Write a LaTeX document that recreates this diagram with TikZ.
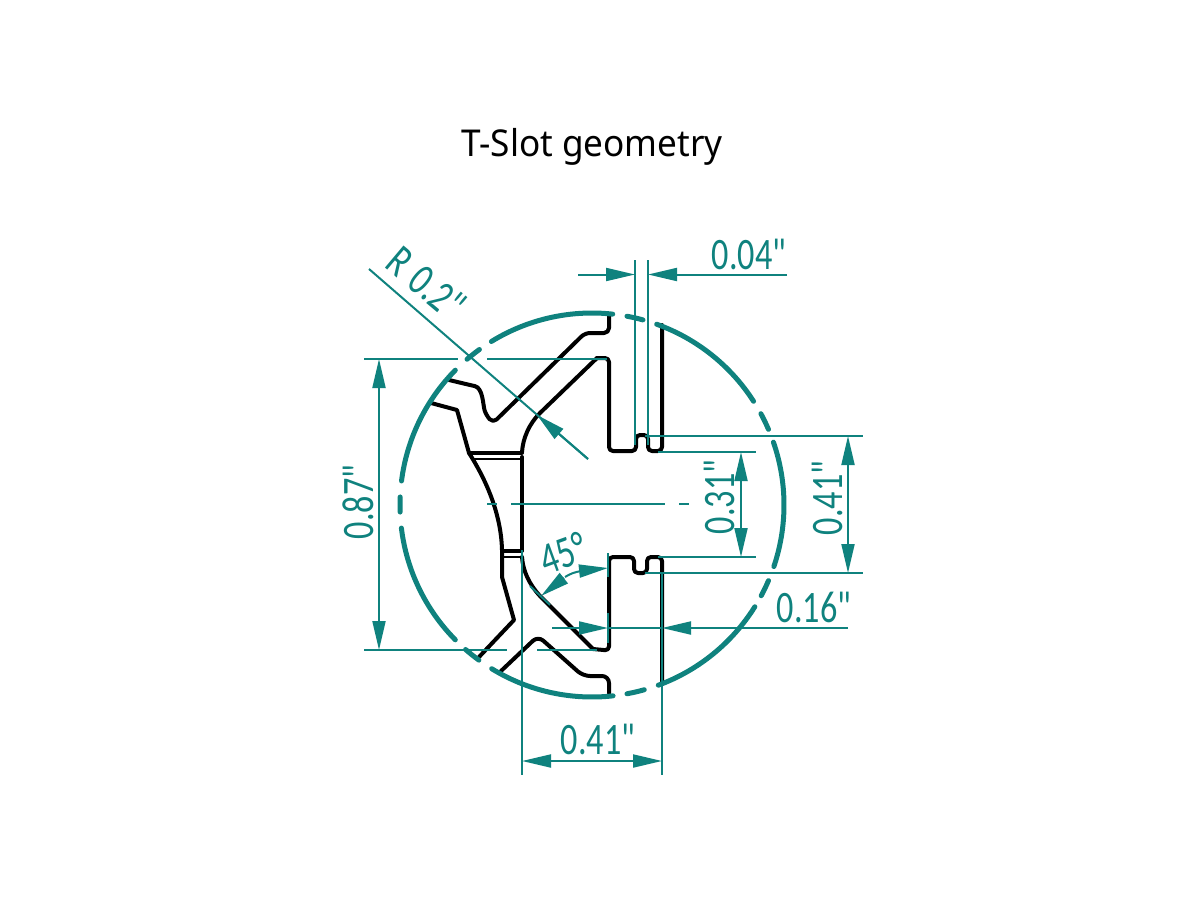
\documentclass[tikz,border=0pt]{standalone}
\usepackage{fontspec}
\usepackage{graphicx}
\usetikzlibrary{arrows.meta,calc}
\newfontfamily\dimfont{Carlito}
\newfontfamily\titlefont{Noto Sans}
\definecolor{dimteal}{HTML}{0F827E}
\newcommand{\dimtxt}[1]{\scalebox{0.76}[1]{\fontsize{45}{45}\dimfont #1}}
\tikzset{
  x=1pt,y=1pt,
  profile/.style={line width=4pt,black,line join=round,line cap=round},
  thinprofile/.style={line width=2.8pt,black},
  ring/.style={line width=5pt,dimteal,line cap=round},
  dim/.style={line width=2pt,dimteal},
  tip/.style={dim,-{Triangle[length=29pt,width=13pt]}},
  label/.style={text=dimteal,inner sep=0pt,anchor=center},
}
\newcommand{\ringarc}[2]{\draw[ring] ($(592,-505)+(#1:192)$) arc[start angle=#1,end angle=#2,radius=192];}
\begin{document}
\begin{tikzpicture}
\useasboundingbox (0,0) rectangle (1200,-900);
\node[inner sep=0pt,anchor=center] (title) at (592,-147) {\scalebox{0.95}[1]{\fontsize{37}{37}\titlefont T-Slot geometry}};

% ---- profile
\draw[profile,rounded corners=5pt] (609,-315) -- (609,-333) -- (585,-333) -- (493,-423) -- (486,-415)
   .. controls (483,-405) and (483,-388) .. (470,-385) -- (449,-380);
\draw[profile] (431,-403) -- (457,-410) -- (469,-453)
   .. controls (483,-475) and (501,-510) .. (502,-550) -- (502,-577) -- (514,-620) -- (479,-657);
\draw[profile] (469,-452.5) -- (522,-452.5);
\draw[thinprofile] (471,-459) -- (522,-459);
\draw[profile] (502,-550.5) -- (522,-550.5);
\draw[thinprofile] (503,-557) -- (522,-557);
\draw[profile] (522,-457) -- (522,-550);
\draw[profile] (522,-452) .. controls (523,-438) and (529,-424) .. (540,-413) -- (597,-358);
\draw[profile,rounded corners=4pt] (597,-358) -- (609,-358) -- (609,-451) -- (636,-451) -- (636,-435) -- (648,-435) -- (648,-451) -- (662,-451) -- (662,-325);
\draw[profile] (522,-557) .. controls (523,-571) and (529,-584) .. (540,-596) -- (593,-649);
\draw[profile,rounded corners=4pt] (593,-649) -- (609,-650.5) -- (609,-557) -- (634,-557) -- (634,-573) -- (647,-573) -- (647,-557) -- (662,-557) -- (662,-684);
\draw[profile,rounded corners=7pt] (501,-671) -- (538,-636) -- (583,-676) -- (609,-676) -- (609,-693);

% ---- circle dashes
\ringarc{121.6}{83.8}
\ringarc{79.5}{74.6}
\ringarc{70.3}{32.7}
\ringarc{28.4}{23.2}
\ringarc{19.1}{-18.7}
\ringarc{-23.2}{-28.2}
\ringarc{-32}{-69.8}
\ringarc{-74.2}{-79.5}
\ringarc{-83.7}{-121.5}
\ringarc{-126.1}{-131.2}
\ringarc{-135.4}{-173.1}
\ringarc{-177.9}{-182.4}
\ringarc{172.8}{135.4}
\ringarc{130.6}{125.9}

% ---- centre line
\draw[dim] (487,-504) -- (497,-504);
\draw[dim] (511,-504) -- (665,-504);
\draw[dim] (679,-504) -- (689,-504);

% ---- 0.04
\draw[dim] (635,-260) -- (635,-445);
\draw[dim] (648,-260) -- (648,-445);
\draw[tip] (578,-274.5) -- (635,-274.5);
\draw[tip] (787,-274.5) -- (648,-274.5);
\node[label] (t04) at (749,-254) {\dimtxt{0.04"}};

% ---- R 0.2
\draw[dim] (369,-269) -- (588,-459);
\draw[tip] (588,-459) -- (537,-415);
\node[label,rotate=-40] (tR) at (426,-283) {\dimtxt{R\,\,0.2"}};

% ---- 0.87
\draw[dim] (364,-359) -- (458,-359);
\draw[dim] (487,-359) -- (607,-359);
\draw[dim] (364,-650) -- (507,-650);
\draw[dim] (537,-650) -- (597,-650);
\draw[tip] (379,-505) -- (379,-359);
\draw[tip] (379,-505) -- (379,-650);
\node[label,rotate=90] (t87) at (358,-502) {\dimtxt{0.87"}};

% ---- 0.31
\draw[dim] (658,-452) -- (756,-452);
\draw[dim] (658,-557) -- (756,-557);
\draw[tip] (741,-505) -- (741,-452);
\draw[tip] (741,-505) -- (741,-557);
\node[label,rotate=90] (t31) at (719,-497) {\dimtxt{0.31"}};

% ---- 0.41 right
\draw[dim] (645,-436) -- (863,-436);
\draw[dim] (645,-573) -- (863,-573);
\draw[tip] (848,-505) -- (848,-436);
\draw[tip] (848,-505) -- (848,-573);
\node[label,rotate=90] (t41r) at (827,-498) {\dimtxt{0.41"}};

% ---- 0.16
\draw[dim] (608,-613) -- (608,-643);
\draw[dim] (608,-553) -- (608,-577);
\draw[tip] (552,-628) -- (608,-628);
\draw[dim] (608,-628) -- (662,-628);
\draw[tip] (848,-628) -- (662,-628);
\node[label] (t16) at (814,-607) {\dimtxt{0.16"}};

% ---- 0.41 bottom
\draw[dim] (522,-550) -- (522,-775);
\draw[dim] (662,-573) -- (662,-775);
\draw[tip] (592,-761) -- (522,-761);
\draw[tip] (592,-761) -- (662,-761);
\node[label] (t41b) at (598,-739) {\dimtxt{0.41"}};

% ---- 45 deg
\draw[dim] (530,-586) -- (550,-605);
\draw[dim] (565,-577) .. controls (570,-574) and (574,-572) .. (582,-571);
\draw[tip] (564,-578) -- (541,-596);
\draw[tip] (580,-571) -- (608,-568);
\node[label,rotate=20] (t45) at (563,-553) {\dimtxt{45°}};
\end{tikzpicture}
\end{document}
